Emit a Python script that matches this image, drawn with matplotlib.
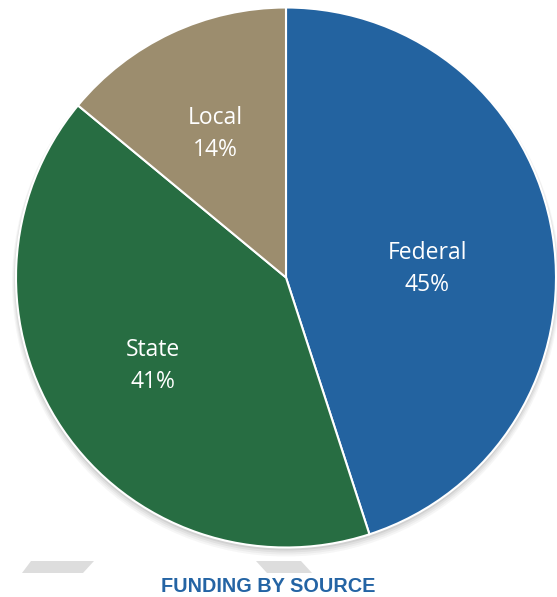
import matplotlib.pyplot as plt
from matplotlib.patches import Circle, Polygon

# funding shares, clockwise from top
sources = ['Federal', 'State', 'Local']
shares = [45, 41, 14]
colors = ['#2363A0', '#276D42', '#9C8D6E']
title = 'FUNDING BY SOURCE'

W, H = 557, 597
fig = plt.figure(figsize=(W / 100, H / 100), dpi=100)
ax = fig.add_axes([0, 0, 1, 1])

cx, cy, r = 286, H - 277.5, 270

# soft drop shadow under the pie
for i, a in enumerate([0.05, 0.06, 0.08, 0.1]):
    ax.add_patch(Circle((cx, cy - 5 + i), r + 4 - i, color='#555555', alpha=a, lw=0, zorder=1))

# decorative grey bars behind the title
ax.add_patch(Polygon([(31, H - 561), (94, H - 561), (83, H - 573), (22, H - 573)],
                     closed=True, color='#DDDDDD', lw=0, zorder=0))
ax.add_patch(Polygon([(256, H - 561), (301, H - 561), (312, H - 573), (267, H - 573)],
                     closed=True, color='#DDDDDD', lw=0, zorder=0))

wedges, texts = ax.pie(shares, colors=colors, startangle=90, counterclock=False,
                       center=(cx, cy), radius=r, frame=True,
                       wedgeprops=dict(edgecolor='white', linewidth=1.5, zorder=2))
ax.set_xlim(0, W)
ax.set_ylim(0, H)
ax.set_aspect('equal')
ax.axis('off')

label_pos = [(427, 269), (153, 366), (215, 134)]
for name, val, (x, y) in zip(sources, shares, label_pos):
    ax.text(x, H - y, f'{name}\n{val}%', ha='center', va='center', color='white',
            fontsize=16.5, family='Open Sans', linespacing=1.45, zorder=3)

ax.text(268, H - 586, title, ha='center', va='center', color='#2464A4',
        fontsize=14.3, fontweight='bold', family='Liberation Sans')

fig.savefig('out.png', dpi=100)
